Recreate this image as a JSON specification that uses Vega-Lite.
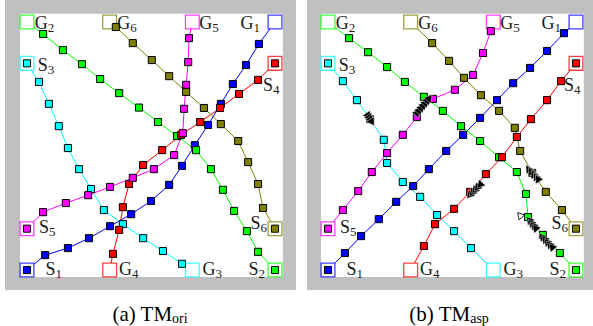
{
  "$schema": "https://vega.github.io/schema/vega-lite/v6.json",
  "padding": {"left": 5, "top": 0, "right": 0, "bottom": 0},
  "spacing": 11,
  "config": {"view": {"fill": "#c0c0c0", "stroke": null}},
  "datasets": {
    "frame": [{"x0": -0.17, "x1": 6.19, "y0": -0.17, "y1": 6.2}],
    "paths": [
      {"p":"a","agent":"1","step":0,"x":0,"y":0,"goal":0},
      {"p":"a","agent":"1","step":1,"x":0.44,"y":0.36,"goal":0},
      {"p":"a","agent":"1","step":2,"x":0.99,"y":0.53,"goal":0},
      {"p":"a","agent":"1","step":3,"x":1.5,"y":0.77,"goal":0},
      {"p":"a","agent":"1","step":4,"x":2.01,"y":1.06,"goal":0},
      {"p":"a","agent":"1","step":5,"x":2.52,"y":1.35,"goal":0},
      {"p":"a","agent":"1","step":6,"x":3.0,"y":1.67,"goal":0},
      {"p":"a","agent":"1","step":7,"x":3.44,"y":2.06,"goal":0},
      {"p":"a","agent":"1","step":8,"x":3.75,"y":2.52,"goal":0},
      {"p":"a","agent":"1","step":9,"x":4.06,"y":3.02,"goal":0},
      {"p":"a","agent":"1","step":10,"x":4.38,"y":3.51,"goal":0},
      {"p":"a","agent":"1","step":11,"x":4.69,"y":4.02,"goal":0},
      {"p":"a","agent":"1","step":12,"x":4.98,"y":4.5,"goal":0},
      {"p":"a","agent":"1","step":13,"x":5.3,"y":4.96,"goal":0},
      {"p":"a","agent":"1","step":14,"x":5.61,"y":5.47,"goal":0},
      {"p":"a","agent":"1","step":15,"x":6,"y":6,"goal":1},

      {"p":"a","agent":"2","step":0,"x":6,"y":0,"goal":0},
      {"p":"a","agent":"2","step":1,"x":5.59,"y":0.44,"goal":0},
      {"p":"a","agent":"2","step":2,"x":5.32,"y":0.94,"goal":0},
      {"p":"a","agent":"2","step":3,"x":5.01,"y":1.43,"goal":0},
      {"p":"a","agent":"2","step":4,"x":4.74,"y":1.94,"goal":0},
      {"p":"a","agent":"2","step":5,"x":4.45,"y":2.44,"goal":0},
      {"p":"a","agent":"2","step":6,"x":4.09,"y":2.9,"goal":0},
      {"p":"a","agent":"2","step":7,"x":3.63,"y":3.24,"goal":0},
      {"p":"a","agent":"2","step":8,"x":3.17,"y":3.58,"goal":0},
      {"p":"a","agent":"2","step":9,"x":2.71,"y":3.93,"goal":0},
      {"p":"a","agent":"2","step":10,"x":2.23,"y":4.28,"goal":0},
      {"p":"a","agent":"2","step":11,"x":1.77,"y":4.62,"goal":0},
      {"p":"a","agent":"2","step":12,"x":1.33,"y":4.98,"goal":0},
      {"p":"a","agent":"2","step":13,"x":0.87,"y":5.32,"goal":0},
      {"p":"a","agent":"2","step":14,"x":0.39,"y":5.71,"goal":0},
      {"p":"a","agent":"2","step":15,"x":0,"y":6,"goal":1},

      {"p":"a","agent":"3","step":0,"x":0,"y":5,"goal":0},
      {"p":"a","agent":"3","step":1,"x":0.29,"y":4.55,"goal":0},
      {"p":"a","agent":"3","step":2,"x":0.53,"y":4.02,"goal":0},
      {"p":"a","agent":"3","step":3,"x":0.77,"y":3.48,"goal":0},
      {"p":"a","agent":"3","step":4,"x":0.99,"y":2.95,"goal":0},
      {"p":"a","agent":"3","step":5,"x":1.26,"y":2.44,"goal":0},
      {"p":"a","agent":"3","step":6,"x":1.55,"y":1.96,"goal":0},
      {"p":"a","agent":"3","step":7,"x":1.86,"y":1.45,"goal":0},
      {"p":"a","agent":"3","step":8,"x":2.32,"y":1.11,"goal":0},
      {"p":"a","agent":"3","step":9,"x":2.81,"y":0.77,"goal":0},
      {"p":"a","agent":"3","step":10,"x":3.29,"y":0.46,"goal":0},
      {"p":"a","agent":"3","step":11,"x":3.75,"y":0.15,"goal":0},
      {"p":"a","agent":"3","step":12,"x":4,"y":0,"goal":1},

      {"p":"a","agent":"4","step":0,"x":6,"y":5,"goal":0},
      {"p":"a","agent":"4","step":1,"x":5.59,"y":4.6,"goal":0},
      {"p":"a","agent":"4","step":2,"x":5.13,"y":4.26,"goal":0},
      {"p":"a","agent":"4","step":3,"x":4.67,"y":3.92,"goal":0},
      {"p":"a","agent":"4","step":4,"x":4.19,"y":3.58,"goal":0},
      {"p":"a","agent":"4","step":5,"x":3.73,"y":3.27,"goal":0},
      {"p":"a","agent":"4","step":6,"x":3.27,"y":2.9,"goal":0},
      {"p":"a","agent":"4","step":7,"x":2.81,"y":2.54,"goal":0},
      {"p":"a","agent":"4","step":8,"x":2.47,"y":2.08,"goal":0},
      {"p":"a","agent":"4","step":9,"x":2.32,"y":1.52,"goal":0},
      {"p":"a","agent":"4","step":10,"x":2.23,"y":0.97,"goal":0},
      {"p":"a","agent":"4","step":11,"x":2.08,"y":0.39,"goal":0},
      {"p":"a","agent":"4","step":12,"x":2,"y":0,"goal":1},

      {"p":"a","agent":"5","step":0,"x":0,"y":1,"goal":0},
      {"p":"a","agent":"5","step":1,"x":0.39,"y":1.4,"goal":0},
      {"p":"a","agent":"5","step":2,"x":0.94,"y":1.62,"goal":0},
      {"p":"a","agent":"5","step":3,"x":1.48,"y":1.81,"goal":0},
      {"p":"a","agent":"5","step":4,"x":2.01,"y":2.01,"goal":0},
      {"p":"a","agent":"5","step":5,"x":2.56,"y":2.23,"goal":0},
      {"p":"a","agent":"5","step":6,"x":3.07,"y":2.44,"goal":0},
      {"p":"a","agent":"5","step":7,"x":3.56,"y":2.78,"goal":0},
      {"p":"a","agent":"5","step":8,"x":3.77,"y":3.31,"goal":0},
      {"p":"a","agent":"5","step":9,"x":3.8,"y":3.9,"goal":0},
      {"p":"a","agent":"5","step":10,"x":3.85,"y":4.48,"goal":0},
      {"p":"a","agent":"5","step":11,"x":3.9,"y":5.03,"goal":0},
      {"p":"a","agent":"5","step":12,"x":3.92,"y":5.61,"goal":0},
      {"p":"a","agent":"5","step":13,"x":4,"y":6,"goal":1},

      {"p":"a","agent":"6","step":0,"x":6,"y":1,"goal":0},
      {"p":"a","agent":"6","step":1,"x":5.71,"y":1.5,"goal":0},
      {"p":"a","agent":"6","step":2,"x":5.59,"y":2.08,"goal":0},
      {"p":"a","agent":"6","step":3,"x":5.35,"y":2.61,"goal":0},
      {"p":"a","agent":"6","step":4,"x":5.11,"y":3.12,"goal":0},
      {"p":"a","agent":"6","step":5,"x":4.69,"y":3.53,"goal":0},
      {"p":"a","agent":"6","step":6,"x":4.28,"y":3.92,"goal":0},
      {"p":"a","agent":"6","step":7,"x":3.85,"y":4.31,"goal":0},
      {"p":"a","agent":"6","step":8,"x":3.44,"y":4.69,"goal":0},
      {"p":"a","agent":"6","step":9,"x":3.02,"y":5.08,"goal":0},
      {"p":"a","agent":"6","step":10,"x":2.56,"y":5.49,"goal":0},
      {"p":"a","agent":"6","step":11,"x":2.15,"y":5.88,"goal":0},

      {"p":"b","agent":"1","step":0,"x":0,"y":0,"goal":0},
      {"p":"b","agent":"1","step":1,"x":0.41,"y":0.41,"goal":0},
      {"p":"b","agent":"1","step":2,"x":0.8,"y":0.82,"goal":0},
      {"p":"b","agent":"1","step":3,"x":1.23,"y":1.23,"goal":0},
      {"p":"b","agent":"1","step":4,"x":1.65,"y":1.65,"goal":0},
      {"p":"b","agent":"1","step":5,"x":2.06,"y":2.03,"goal":0},
      {"p":"b","agent":"1","step":6,"x":2.44,"y":2.44,"goal":0},
      {"p":"b","agent":"1","step":7,"x":2.86,"y":2.88,"goal":0},
      {"p":"b","agent":"1","step":8,"x":3.27,"y":3.27,"goal":0},
      {"p":"b","agent":"1","step":9,"x":3.68,"y":3.68,"goal":0},
      {"p":"b","agent":"1","step":10,"x":4.09,"y":4.11,"goal":0},
      {"p":"b","agent":"1","step":11,"x":4.48,"y":4.52,"goal":0},
      {"p":"b","agent":"1","step":12,"x":4.89,"y":4.89,"goal":0},
      {"p":"b","agent":"1","step":13,"x":5.3,"y":5.3,"goal":0},
      {"p":"b","agent":"1","step":14,"x":5.71,"y":5.73,"goal":0},
      {"p":"b","agent":"1","step":15,"x":6,"y":6,"goal":1},

      {"p":"b","agent":"2","step":0,"x":6,"y":0,"goal":0},
      {"p":"b","agent":"2","step":1,"x":5.61,"y":0.41,"goal":0},
      {"p":"b","agent":"2","step":2,"x":5.2,"y":0.85,"goal":0},
      {"p":"b","agent":"2","step":3,"x":4.84,"y":1.28,"goal":0},
      {"p":"b","agent":"2","step":4,"x":4.79,"y":1.84,"goal":0},
      {"p":"b","agent":"2","step":5,"x":4.57,"y":2.37,"goal":0},
      {"p":"b","agent":"2","step":6,"x":4.14,"y":2.73,"goal":0},
      {"p":"b","agent":"2","step":7,"x":3.68,"y":3.12,"goal":0},
      {"p":"b","agent":"2","step":8,"x":3.22,"y":3.48,"goal":0},
      {"p":"b","agent":"2","step":9,"x":2.78,"y":3.85,"goal":0},
      {"p":"b","agent":"2","step":10,"x":2.32,"y":4.19,"goal":0},
      {"p":"b","agent":"2","step":11,"x":1.86,"y":4.55,"goal":0},
      {"p":"b","agent":"2","step":12,"x":1.43,"y":4.91,"goal":0},
      {"p":"b","agent":"2","step":13,"x":0.97,"y":5.27,"goal":0},
      {"p":"b","agent":"2","step":14,"x":0.51,"y":5.61,"goal":0},
      {"p":"b","agent":"2","step":15,"x":0,"y":6,"goal":1},

      {"p":"b","agent":"3","step":0,"x":0,"y":5,"goal":0},
      {"p":"b","agent":"3","step":1,"x":0.36,"y":4.57,"goal":0},
      {"p":"b","agent":"3","step":2,"x":0.7,"y":4.11,"goal":0},
      {"p":"b","agent":"3","step":3,"x":1.02,"y":3.65,"goal":0},
      {"p":"b","agent":"3","step":4,"x":1.35,"y":3.15,"goal":0},
      {"p":"b","agent":"3","step":5,"x":1.43,"y":2.59,"goal":0},
      {"p":"b","agent":"3","step":6,"x":1.81,"y":2.13,"goal":0},
      {"p":"b","agent":"3","step":7,"x":2.23,"y":1.77,"goal":0},
      {"p":"b","agent":"3","step":8,"x":2.64,"y":1.33,"goal":0},
      {"p":"b","agent":"3","step":9,"x":3.05,"y":0.94,"goal":0},
      {"p":"b","agent":"3","step":10,"x":3.46,"y":0.53,"goal":0},
      {"p":"b","agent":"3","step":11,"x":4,"y":0,"goal":1},

      {"p":"b","agent":"4","step":0,"x":6,"y":5,"goal":0},
      {"p":"b","agent":"4","step":1,"x":5.64,"y":4.57,"goal":0},
      {"p":"b","agent":"4","step":2,"x":5.3,"y":4.11,"goal":0},
      {"p":"b","agent":"4","step":3,"x":4.91,"y":3.65,"goal":0},
      {"p":"b","agent":"4","step":4,"x":4.57,"y":3.22,"goal":0},
      {"p":"b","agent":"4","step":5,"x":4.21,"y":2.73,"goal":0},
      {"p":"b","agent":"4","step":6,"x":3.82,"y":2.32,"goal":0},
      {"p":"b","agent":"4","step":7,"x":3.44,"y":1.89,"goal":0},
      {"p":"b","agent":"4","step":8,"x":3.05,"y":1.48,"goal":0},
      {"p":"b","agent":"4","step":9,"x":2.59,"y":1.11,"goal":0},
      {"p":"b","agent":"4","step":10,"x":2.32,"y":0.58,"goal":0},
      {"p":"b","agent":"4","step":11,"x":2,"y":0,"goal":1},

      {"p":"b","agent":"5","step":0,"x":0,"y":1,"goal":0},
      {"p":"b","agent":"5","step":1,"x":0.36,"y":1.45,"goal":0},
      {"p":"b","agent":"5","step":2,"x":0.73,"y":1.91,"goal":0},
      {"p":"b","agent":"5","step":3,"x":1.06,"y":2.37,"goal":0},
      {"p":"b","agent":"5","step":4,"x":1.43,"y":2.83,"goal":0},
      {"p":"b","agent":"5","step":5,"x":1.81,"y":3.27,"goal":0},
      {"p":"b","agent":"5","step":6,"x":2.15,"y":3.7,"goal":0},
      {"p":"b","agent":"5","step":7,"x":2.54,"y":4.14,"goal":0},
      {"p":"b","agent":"5","step":8,"x":3.07,"y":4.36,"goal":0},
      {"p":"b","agent":"5","step":9,"x":3.51,"y":4.72,"goal":0},
      {"p":"b","agent":"5","step":10,"x":3.75,"y":5.25,"goal":0},
      {"p":"b","agent":"5","step":11,"x":3.94,"y":5.78,"goal":0},
      {"p":"b","agent":"5","step":12,"x":4,"y":6,"goal":1},

      {"p":"b","agent":"6","step":0,"x":6,"y":1,"goal":0},
      {"p":"b","agent":"6","step":1,"x":5.66,"y":1.45,"goal":0},
      {"p":"b","agent":"6","step":2,"x":5.27,"y":1.89,"goal":0},
      {"p":"b","agent":"6","step":3,"x":4.94,"y":2.35,"goal":0},
      {"p":"b","agent":"6","step":4,"x":4.65,"y":2.88,"goal":0},
      {"p":"b","agent":"6","step":5,"x":4.52,"y":3.44,"goal":0},
      {"p":"b","agent":"6","step":6,"x":4.14,"y":3.85,"goal":0},
      {"p":"b","agent":"6","step":7,"x":3.7,"y":4.23,"goal":0},
      {"p":"b","agent":"6","step":8,"x":3.29,"y":4.65,"goal":0},
      {"p":"b","agent":"6","step":9,"x":2.93,"y":5.06,"goal":0},
      {"p":"b","agent":"6","step":10,"x":2.52,"y":5.49,"goal":0},
      {"p":"b","agent":"6","step":11,"x":2,"y":6,"goal":1}
    ],
    "boxes": [
      {"agent":"1","main":"S","sub":"1","x":0,"y":0,"lx":0.69,"ly":-0.12},
      {"agent":"1","main":"G","sub":"1","x":6,"y":6,"lx":5.48,"ly":5.83},
      {"agent":"2","main":"S","sub":"2","x":6,"y":0,"lx":5.6,"ly":-0.12},
      {"agent":"2","main":"G","sub":"2","x":0,"y":6,"lx":0.5,"ly":5.83},
      {"agent":"3","main":"S","sub":"3","x":0,"y":5,"lx":0.5,"ly":4.81},
      {"agent":"3","main":"G","sub":"3","x":4,"y":0,"lx":4.56,"ly":-0.12},
      {"agent":"4","main":"S","sub":"4","x":6,"y":5,"lx":5.95,"ly":4.33},
      {"agent":"4","main":"G","sub":"4","x":2,"y":0,"lx":2.54,"ly":-0.12},
      {"agent":"5","main":"S","sub":"5","x":0,"y":1,"lx":0.53,"ly":0.9},
      {"agent":"5","main":"G","sub":"5","x":4,"y":6,"lx":4.48,"ly":5.83},
      {"agent":"6","main":"S","sub":"6","x":6,"y":1,"lx":5.65,"ly":0.98},
      {"agent":"6","main":"G","sub":"6","x":2,"y":6,"lx":2.5,"ly":5.83}
    ],
    "arrows": [
      {"x":0.98,"y":3.72,"heading":146,"ghost":0},
      {"x":1.01,"y":3.67,"heading":146,"ghost":0},
      {"x":1.04,"y":3.62,"heading":146,"ghost":0},
      {"x":1.07,"y":3.57,"heading":146,"ghost":0},
      {"x":2.17,"y":3.82,"heading":40,"ghost":0},
      {"x":2.22,"y":3.88,"heading":40,"ghost":0},
      {"x":2.27,"y":3.94,"heading":40,"ghost":0},
      {"x":2.32,"y":4.0,"heading":40,"ghost":0},
      {"x":2.37,"y":4.06,"heading":40,"ghost":0},
      {"x":2.42,"y":4.12,"heading":40,"ghost":0},
      {"x":2.46,"y":4.17,"heading":40,"ghost":0},
      {"x":3.42,"y":1.8,"heading":222,"ghost":0},
      {"x":3.48,"y":1.86,"heading":222,"ghost":0},
      {"x":3.54,"y":1.92,"heading":222,"ghost":0},
      {"x":3.6,"y":1.98,"heading":222,"ghost":0},
      {"x":3.67,"y":2.05,"heading":222,"ghost":0},
      {"x":4.84,"y":2.46,"heading":-32,"ghost":0},
      {"x":4.9,"y":2.4,"heading":-32,"ghost":0},
      {"x":4.96,"y":2.33,"heading":-32,"ghost":0},
      {"x":5.02,"y":2.27,"heading":-32,"ghost":0},
      {"x":5.07,"y":2.22,"heading":-32,"ghost":0},
      {"x":4.86,"y":1.22,"heading":-40,"ghost":0},
      {"x":4.91,"y":1.15,"heading":-40,"ghost":0},
      {"x":4.96,"y":1.09,"heading":-40,"ghost":0},
      {"x":5.01,"y":1.03,"heading":-40,"ghost":0},
      {"x":5.17,"y":0.82,"heading":-40,"ghost":0},
      {"x":5.23,"y":0.76,"heading":-40,"ghost":0},
      {"x":5.29,"y":0.69,"heading":-40,"ghost":0},
      {"x":5.35,"y":0.63,"heading":-40,"ghost":0},
      {"x":5.41,"y":0.57,"heading":-40,"ghost":0},
      {"x":4.64,"y":1.33,"heading":-40,"ghost":1}
    ],
    "captions": [
      {"p":"a","main":"(a) TM","sub":"ori","x":3.51,"y":-1.23},
      {"p":"b","main":"(b) TM","sub":"asp","x":3.44,"y":-1.23}
    ]
  },
  "hconcat": [
    {
      "width": 291,
      "height": 290,
      "layer": [
        {"data": {"name": "frame"},
         "mark": {"type": "rect", "fill": "white", "stroke": null},
         "encoding": {
           "x": {"field": "x0", "type": "quantitative", "scale": {"domain": [-0.532, 6.508], "nice": false, "zero": false}, "axis": null},
           "x2": {"field": "x1"},
           "y": {"field": "y0", "type": "quantitative", "scale": {"domain": [-0.484, 6.533], "nice": false, "zero": false}, "axis": null},
           "y2": {"field": "y1"}}},
        {"data": {"name": "paths"}, "transform": [{"filter": "datum.p == 'a'"}],
         "mark": {"type": "line", "strokeWidth": 1},
         "encoding": {
           "x": {"field": "x", "type": "quantitative", "scale": {"domain": [-0.532, 6.508], "nice": false, "zero": false}, "axis": null},
           "y": {"field": "y", "type": "quantitative", "scale": {"domain": [-0.484, 6.533], "nice": false, "zero": false}, "axis": null},
           "color": {"field": "agent", "type": "nominal", "scale": {"domain": ["1","2","3","4","5","6"], "range": ["#0000ff","#00ff00","#00ffff","#ff0000","#ff00ff","#808000"]}, "legend": null},
           "order": {"field": "step", "type": "quantitative"}}},
        {"data": {"name": "boxes"},
         "mark": {"type": "point", "shape": "square", "size": 190, "filled": true, "fill": "white", "strokeWidth": 1.3, "opacity": 1, "fillOpacity": 1, "strokeOpacity": 0.75},
         "encoding": {
           "x": {"field": "x", "type": "quantitative", "scale": {"domain": [-0.532, 6.508], "nice": false, "zero": false}, "axis": null},
           "y": {"field": "y", "type": "quantitative", "scale": {"domain": [-0.484, 6.533], "nice": false, "zero": false}, "axis": null},
           "stroke": {"field": "agent", "type": "nominal", "scale": {"domain": ["1","2","3","4","5","6"], "range": ["#0000ff","#00ff00","#00ffff","#ff0000","#ff00ff","#808000"]}, "legend": null}}},
        {"data": {"name": "paths"}, "transform": [{"filter": "datum.p == 'a' && datum.goal == 0"}],
         "mark": {"type": "point", "shape": "square", "size": 50, "filled": true, "stroke": "#000", "strokeWidth": 1, "opacity": 1, "fillOpacity": 1, "strokeOpacity": 1},
         "encoding": {
           "x": {"field": "x", "type": "quantitative", "scale": {"domain": [-0.532, 6.508], "nice": false, "zero": false}, "axis": null},
           "y": {"field": "y", "type": "quantitative", "scale": {"domain": [-0.484, 6.533], "nice": false, "zero": false}, "axis": null},
           "fill": {"field": "agent", "type": "nominal", "scale": {"domain": ["1","2","3","4","5","6"], "range": ["#0000ff","#00ff00","#00ffff","#ff0000","#ff00ff","#808000"]}, "legend": null}}},
        {"data": {"name": "boxes"},
         "mark": {"type": "text", "font": "Liberation Serif", "fontSize": 18, "align": "right", "baseline": "alphabetic", "fill": "#1a1a1a"},
         "encoding": {
           "x": {"field": "lx", "type": "quantitative", "scale": {"domain": [-0.532, 6.508], "nice": false, "zero": false}, "axis": null},
           "y": {"field": "ly", "type": "quantitative", "scale": {"domain": [-0.484, 6.533], "nice": false, "zero": false}, "axis": null},
           "text": {"field": "main"}}},
        {"data": {"name": "boxes"},
         "mark": {"type": "text", "font": "Liberation Serif", "fontSize": 13, "align": "left", "baseline": "alphabetic", "dy": 3, "fill": "#1a1a1a"},
         "encoding": {
           "x": {"field": "lx", "type": "quantitative", "scale": {"domain": [-0.532, 6.508], "nice": false, "zero": false}, "axis": null},
           "y": {"field": "ly", "type": "quantitative", "scale": {"domain": [-0.484, 6.533], "nice": false, "zero": false}, "axis": null},
           "text": {"field": "sub"}}},
        {"data": {"name": "captions"}, "transform": [{"filter": "datum.p == 'a'"}],
         "mark": {"type": "text", "font": "Liberation Serif", "fontSize": 21, "align": "right", "baseline": "alphabetic", "fill": "#000"},
         "encoding": {
           "x": {"field": "x", "type": "quantitative", "scale": {"domain": [-0.532, 6.508], "nice": false, "zero": false}, "axis": null},
           "y": {"field": "y", "type": "quantitative", "scale": {"domain": [-0.484, 6.533], "nice": false, "zero": false}, "axis": null},
           "text": {"field": "main"}}},
        {"data": {"name": "captions"}, "transform": [{"filter": "datum.p == 'a'"}],
         "mark": {"type": "text", "font": "Liberation Serif", "fontSize": 14, "align": "left", "baseline": "alphabetic", "dy": 2, "fill": "#000"},
         "encoding": {
           "x": {"field": "x", "type": "quantitative", "scale": {"domain": [-0.532, 6.508], "nice": false, "zero": false}, "axis": null},
           "y": {"field": "y", "type": "quantitative", "scale": {"domain": [-0.484, 6.533], "nice": false, "zero": false}, "axis": null},
           "text": {"field": "sub"}}}
      ]
    },
    {
      "width": 286,
      "height": 290,
      "layer": [
        {"data": {"name": "frame"},
         "mark": {"type": "rect", "fill": "white", "stroke": null},
         "encoding": {
           "x": {"field": "x0", "type": "quantitative", "scale": {"domain": [-0.508, 6.412], "nice": false, "zero": false}, "axis": null},
           "x2": {"field": "x1"},
           "y": {"field": "y0", "type": "quantitative", "scale": {"domain": [-0.484, 6.533], "nice": false, "zero": false}, "axis": null},
           "y2": {"field": "y1"}}},
        {"data": {"name": "paths"}, "transform": [{"filter": "datum.p == 'b'"}],
         "mark": {"type": "line", "strokeWidth": 1},
         "encoding": {
           "x": {"field": "x", "type": "quantitative", "scale": {"domain": [-0.508, 6.412], "nice": false, "zero": false}, "axis": null},
           "y": {"field": "y", "type": "quantitative", "scale": {"domain": [-0.484, 6.533], "nice": false, "zero": false}, "axis": null},
           "color": {"field": "agent", "type": "nominal", "scale": {"domain": ["1","2","3","4","5","6"], "range": ["#0000ff","#00ff00","#00ffff","#ff0000","#ff00ff","#808000"]}, "legend": null},
           "order": {"field": "step", "type": "quantitative"}}},
        {"data": {"name": "boxes"},
         "mark": {"type": "point", "shape": "square", "size": 190, "filled": true, "fill": "white", "strokeWidth": 1.3, "opacity": 1, "fillOpacity": 1, "strokeOpacity": 0.75},
         "encoding": {
           "x": {"field": "x", "type": "quantitative", "scale": {"domain": [-0.508, 6.412], "nice": false, "zero": false}, "axis": null},
           "y": {"field": "y", "type": "quantitative", "scale": {"domain": [-0.484, 6.533], "nice": false, "zero": false}, "axis": null},
           "stroke": {"field": "agent", "type": "nominal", "scale": {"domain": ["1","2","3","4","5","6"], "range": ["#0000ff","#00ff00","#00ffff","#ff0000","#ff00ff","#808000"]}, "legend": null}}},
        {"data": {"name": "paths"}, "transform": [{"filter": "datum.p == 'b' && datum.goal == 0"}],
         "mark": {"type": "point", "shape": "square", "size": 50, "filled": true, "stroke": "#000", "strokeWidth": 1, "opacity": 1, "fillOpacity": 1, "strokeOpacity": 1},
         "encoding": {
           "x": {"field": "x", "type": "quantitative", "scale": {"domain": [-0.508, 6.412], "nice": false, "zero": false}, "axis": null},
           "y": {"field": "y", "type": "quantitative", "scale": {"domain": [-0.484, 6.533], "nice": false, "zero": false}, "axis": null},
           "fill": {"field": "agent", "type": "nominal", "scale": {"domain": ["1","2","3","4","5","6"], "range": ["#0000ff","#00ff00","#00ffff","#ff0000","#ff00ff","#808000"]}, "legend": null}}},
        {"data": {"name": "arrows"}, "transform": [{"filter": "datum.ghost == 0"}],
         "mark": {"type": "point", "shape": "triangle-up", "size": 80, "filled": true, "fill": "#000", "stroke": "#fff", "strokeWidth": 0.4, "opacity": 1, "fillOpacity": 1},
         "encoding": {
           "x": {"field": "x", "type": "quantitative", "scale": {"domain": [-0.508, 6.412], "nice": false, "zero": false}, "axis": null},
           "y": {"field": "y", "type": "quantitative", "scale": {"domain": [-0.484, 6.533], "nice": false, "zero": false}, "axis": null},
           "angle": {"field": "heading", "type": "quantitative", "scale": null}}},
        {"data": {"name": "arrows"}, "transform": [{"filter": "datum.ghost == 1"}],
         "mark": {"type": "point", "shape": "triangle-up", "size": 55, "filled": false, "stroke": "#000", "strokeWidth": 0.8, "opacity": 1},
         "encoding": {
           "x": {"field": "x", "type": "quantitative", "scale": {"domain": [-0.508, 6.412], "nice": false, "zero": false}, "axis": null},
           "y": {"field": "y", "type": "quantitative", "scale": {"domain": [-0.484, 6.533], "nice": false, "zero": false}, "axis": null},
           "angle": {"field": "heading", "type": "quantitative", "scale": null}}},
        {"data": {"name": "boxes"},
         "mark": {"type": "text", "font": "Liberation Serif", "fontSize": 18, "align": "right", "baseline": "alphabetic", "fill": "#1a1a1a"},
         "encoding": {
           "x": {"field": "lx", "type": "quantitative", "scale": {"domain": [-0.508, 6.412], "nice": false, "zero": false}, "axis": null},
           "y": {"field": "ly", "type": "quantitative", "scale": {"domain": [-0.484, 6.533], "nice": false, "zero": false}, "axis": null},
           "text": {"field": "main"}}},
        {"data": {"name": "boxes"},
         "mark": {"type": "text", "font": "Liberation Serif", "fontSize": 13, "align": "left", "baseline": "alphabetic", "dy": 3, "fill": "#1a1a1a"},
         "encoding": {
           "x": {"field": "lx", "type": "quantitative", "scale": {"domain": [-0.508, 6.412], "nice": false, "zero": false}, "axis": null},
           "y": {"field": "ly", "type": "quantitative", "scale": {"domain": [-0.484, 6.533], "nice": false, "zero": false}, "axis": null},
           "text": {"field": "sub"}}},
        {"data": {"name": "captions"}, "transform": [{"filter": "datum.p == 'b'"}],
         "mark": {"type": "text", "font": "Liberation Serif", "fontSize": 21, "align": "right", "baseline": "alphabetic", "fill": "#000"},
         "encoding": {
           "x": {"field": "x", "type": "quantitative", "scale": {"domain": [-0.508, 6.412], "nice": false, "zero": false}, "axis": null},
           "y": {"field": "y", "type": "quantitative", "scale": {"domain": [-0.484, 6.533], "nice": false, "zero": false}, "axis": null},
           "text": {"field": "main"}}},
        {"data": {"name": "captions"}, "transform": [{"filter": "datum.p == 'b'"}],
         "mark": {"type": "text", "font": "Liberation Serif", "fontSize": 14, "align": "left", "baseline": "alphabetic", "dy": 2, "fill": "#000"},
         "encoding": {
           "x": {"field": "x", "type": "quantitative", "scale": {"domain": [-0.508, 6.412], "nice": false, "zero": false}, "axis": null},
           "y": {"field": "y", "type": "quantitative", "scale": {"domain": [-0.484, 6.533], "nice": false, "zero": false}, "axis": null},
           "text": {"field": "sub"}}}
      ]
    }
  ]
}
